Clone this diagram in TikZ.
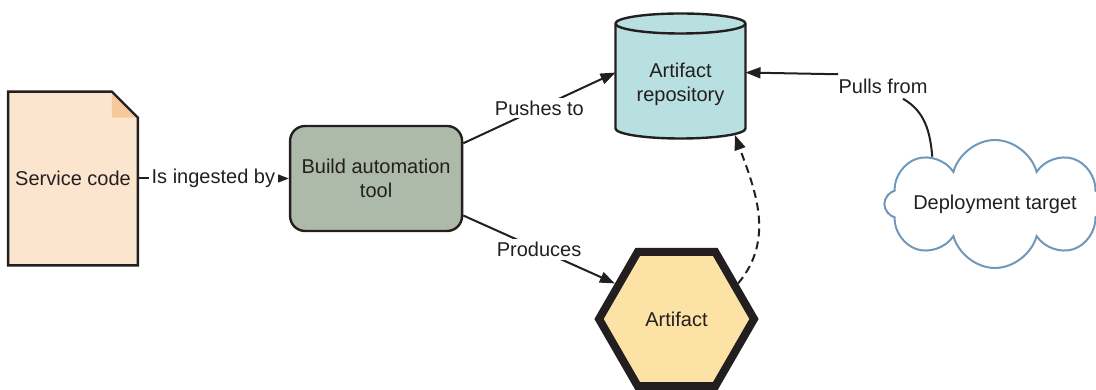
\documentclass[tikz,border=0pt]{standalone}
\usepackage{fontspec}
\setmainfont{Liberation Sans}
\usepackage{tikz}
\usetikzlibrary{shapes.geometric, shapes.symbols, arrows.meta, positioning, backgrounds}
\usepackage{xcolor}
\definecolor{inkc}{HTML}{231F20}
\definecolor{docfill}{HTML}{FCE5CF}
\definecolor{docfold}{HTML}{F7C89B}
\definecolor{buildfill}{HTML}{ADBAA9}
\definecolor{repofill}{HTML}{B9E0E0}
\definecolor{artfill}{HTML}{FDE2A6}
\definecolor{cloudline}{HTML}{6F98BB}

\begin{document}
\begin{tikzpicture}[x=0.5pt, y=0.5pt, >={Triangle[length=7.5pt, width=5.5pt]},
  font=\fontsize{10}{12}\selectfont, text=inkc,
  box/.style={rectangle, draw=inkc, line width=1.2pt, fill=#1, align=center},
  box/.default=buildfill,
  lbl/.style={fill=white, inner sep=1.5pt},
  conn/.style={draw=inkc, line width=1pt}]
  \useasboundingbox (0,0) rectangle (1096,390);
  \node[minimum width=63pt, minimum height=86.5pt] (doc) at (73,211.5) {Service code};
  \node[box=buildfill, rounded corners=7.5pt, minimum width=86pt, minimum height=52.5pt, right=75.5pt of doc] (build) {Build automation\\tool};
  \node[minimum width=65pt, minimum height=49pt, outer sep=0pt, align=center] (repo) at (680.5,306) {Artifact\\repository};
  \node[regular polygon, regular polygon sides=6, draw=inkc, line width=4pt, fill=artfill, minimum size=77.5pt] (artifact) at (676.5,71) {Artifact};
  \node[cloud, cloud puffs=8, cloud ignores aspect, draw=cloudline, line width=1pt, fill=white, inner sep=0pt, minimum width=96pt, minimum height=64pt] (deploy) at (995,186) {Deployment target};
  \node[inner sep=0pt] (pulls) at (883,304) {Pulls from};
  % shapes behind the text
  \begin{scope}[on background layer]
    \fill[docfill] (doc.north west) -- ([xshift=-13pt]doc.north east) -- ([yshift=-13pt]doc.north east) -- (doc.south east) -- (doc.south west) -- cycle;
    \fill[docfold] ([xshift=-13pt]doc.north east) -- ([xshift=-13pt, yshift=-13pt]doc.north east) -- ([yshift=-13pt]doc.north east) -- cycle;
    \draw[inkc, line width=1.2pt] (doc.north west) -- ([xshift=-13pt]doc.north east) -- ([yshift=-13pt]doc.north east) -- (doc.south east) -- (doc.south west) -- cycle;
    \filldraw[fill=repofill, draw=inkc, line width=1.2pt] ([yshift=5.75pt]repo.north west) -- ([yshift=2.25pt]repo.south west)
      arc[start angle=180, end angle=360, x radius=32.5pt, y radius=5pt] -- ([yshift=5.75pt]repo.north east)
      arc[start angle=0, end angle=180, x radius=32.5pt, y radius=5pt] -- cycle;
    \draw[inkc, line width=1.2pt] ([yshift=5.75pt]repo.north west) arc[start angle=180, end angle=360, x radius=32.5pt, y radius=5pt];
  \end{scope}
  \draw[conn, ->] (doc.east) -- node[lbl]{Is ingested by} (build.west);
  \draw[conn, ->] (build.22) -- node[lbl]{Pushes to} (repo.170);
  \draw[conn, ->] (build.-23) -- node[lbl]{Produces} (artifact.150);
  \draw[conn, ->, dash pattern=on 4pt off 2.5pt] (artifact.30) to[out=50, in=-70] ([yshift=-1pt]repo.-42);
  \draw[conn] ([shift={(10pt,-2.5pt)}]pulls.south) to[out=-30, in=95] (deploy.143);
  \draw[conn, ->] ([yshift=2pt]pulls.north west) -- (repo.10);
\end{tikzpicture}
\end{document}
